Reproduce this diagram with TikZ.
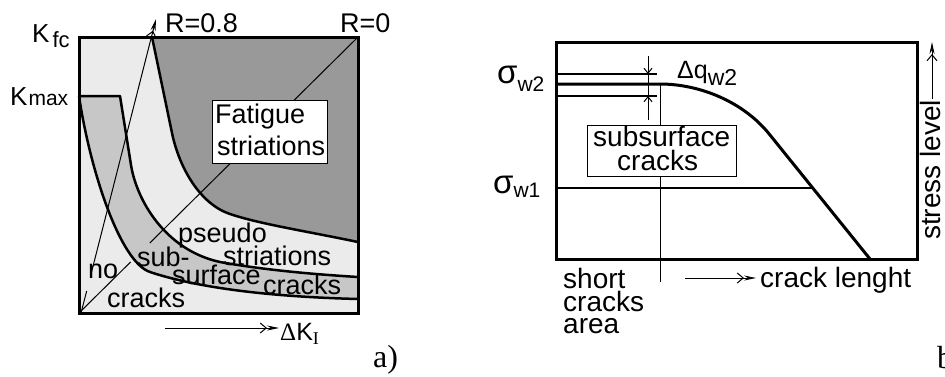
\documentclass[tikz,border=0pt]{standalone}
\usepackage{fontspec}
\setmainfont{Liberation Sans}
\newfontfamily\seriffont{Liberation Serif}
\usetikzlibrary{arrows.meta}
\newcommand\fsz[1]{\fontsize{#1}{#1}\selectfont}
\definecolor{lightf}{gray}{0.92}
\definecolor{medf}{gray}{0.78}
\definecolor{darkf}{gray}{0.60}
\begin{document}
\begin{tikzpicture}[x=1pt,y=-1pt,
  txt/.style={inner sep=0pt,anchor=base west,font=\fsz{27}},
  rtxt/.style={inner sep=0pt,anchor=base west,font=\fsz{28}},
  thickline/.style={line width=2.5pt,line join=round},
  thinline/.style={line width=1pt},
  frame/.style={line width=3pt},
  bigarrow/.style={line width=1pt,-{Straight Barb[length=6pt,width=10pt]Stealth[length=12pt,width=5pt]}},
  dimarrow/.style={line width=1pt,-{Straight Barb[length=5pt,width=8pt]}},
]
\useasboundingbox (0,0) rectangle (945,376);

% ---------------- left panel: fills
\fill[lightf] (79,37) rectangle (358,313);
\fill[medf] (79,96) -- (120,96) -- (131,165) .. controls (136.6,200) and (165,250) .. (220,262) .. controls (265,270) and (310,274) .. (358,277)
  -- (358,299) .. controls (240,296) and (180,282) .. (150,272) .. controls (120,262) and (90,170) .. (79,96) -- cycle;
\fill[darkf] (152,37) -- (358,37) -- (358,242) .. controls (300,230) and (260,224) .. (230,214) .. controls (200,204) and (179.3,168) .. (172,133) -- cycle;

% thin lines
\coordinate (d0) at (79,313);
\coordinate (d1) at (130.6,262);
\coordinate (d2) at (149.8,243);
\coordinate (d3) at (358,37);
\draw[thinline] (d0) -- (d1);
\draw[thinline] (d2) -- (d3);
\coordinate (r0) at (81,313);
\coordinate (r1) at (86.7,291);
\coordinate (r2) at (91.3,273);
\coordinate (r3) at (156,19);
\draw[thinline] (r0) -- (r1);
\draw[bigarrow] (r2) -- (r3);

% thick curves
\draw[thickline] (79,96) -- (120,96) -- (131,165) .. controls (136.6,200) and (165,250) .. (220,262) .. controls (265,270) and (310,274) .. (358,277);
\draw[thickline] (79,96) .. controls (90,170) and (120,262) .. (150,272) .. controls (180,282) and (240,296) .. (358,299);
\draw[thickline] (152,37) -- (172,133) .. controls (179.3,168) and (200,204) .. (230,214) .. controls (260,224) and (300,230) .. (358,242);

% Fatigue box
\node[draw,fill=white,thinline,inner sep=0pt,minimum width=115pt,minimum height=63pt,anchor=north west] (fatbox) at (212,100) {};
\node[txt] (fat1) at (215,123) {Fatigue};
\node[txt] (fat2) at (217,155) {striations};

% frame
\draw[frame] (79,37) rectangle (358,313);

% labels
\node[txt,font=\fsz{26}] (kfc) at (32,42) {K\hspace{3pt}\raisebox{-5pt}{\fsz{22}fc}};
\node[txt,font=\fsz{26}] (kmax) at (10,105) {K\hspace{1pt}{\fsz{21}max}};
\node[txt] (r08) at (165,32) {R=0.8};
\node[txt] (r00) at (340,32) {R=0};
\node[txt] (pseudo) at (178,242) {pseudo};
\node[txt] (stri) at (223,265) {striations};
\node[txt] (sub) at (137,266) {sub-};
\node[txt] (surf) at (172,284) {surface};
\node[txt] (crk1) at (263,294) {cracks};
\node[txt] (no) at (88,278) {no};
\node[txt] (crk2) at (107,307) {cracks};
\node[txt] (dk) at (280,340) {{\seriffont\fsz{25}Δ}{\fsz{25}K}\raisebox{-4pt}{\seriffont\fsz{18}I}};
\coordinate (dka) at (165,328);
\coordinate (dkb) at (279,328);
\draw[bigarrow] (dka) -- (dkb);
\node[txt,font=\seriffont\fsz{32}] (lbla) at (373,367) {a)};

% ---------------- right panel
\draw[line width=2pt] (556,74) -- (657,74);
\draw[line width=2pt] (556,96) -- (657,96);
\draw[line width=1.5pt] (556,188) -- (812,188);
\draw[thinline] (660,84) -- (660,282);
\draw[line width=3pt,line join=round] (556,84) -- (660,84) .. controls (700,84) and (744,102) .. (770,135) -- (870,259);
\coordinate (da0) at (648,56);
\coordinate (da1) at (648,74);
\coordinate (da2) at (648,120);
\coordinate (da3) at (648,96);
\draw[thinline] (da1) -- (da3);
\draw[dimarrow] (da0) -- (da1);
\draw[dimarrow] (da2) -- (da3);
\node[draw,fill=white,thinline,inner sep=0pt,minimum width=149pt,minimum height=51pt,anchor=north west] (subbox) at (587,125) {};
\node[rtxt] (subt1) at (593,146) {subsurface};
\node[rtxt] (subt2) at (617,170) {cracks};
\draw[frame] (556,42) rectangle (917,259);

\node[txt] (sw2) at (497,83) {{\fsz{33}σ}\raisebox{-8pt}{\fsz{21}w2}};
\node[txt] (sw1) at (493,193) {{\fsz{33}σ}\raisebox{-4pt}{\fsz{21}w1}};
\node[txt] (dq) at (677,78) {{\fsz{25}Δq}\raisebox{-7pt}{\fsz{23}w2}};
\node[rtxt] (sh1) at (563,288) {short};
\node[rtxt] (sh2) at (563,311) {cracks};
\node[rtxt] (sh3) at (563,333) {area};
\node[rtxt] (cl) at (760,287) {crack lenght};
\coordinate (cla) at (685,278);
\coordinate (clb) at (756,278);
\draw[bigarrow] (cla) -- (clb);
\node[rtxt,rotate=90] (stress) at (940,240) {stress level};
\coordinate (sla) at (932,99);
\coordinate (slb) at (932,42);
\draw[bigarrow] (sla) -- (slb);
\node[txt,font=\seriffont\fsz{32}] (lblb) at (937,368) {b)};
\end{tikzpicture}
\end{document}
